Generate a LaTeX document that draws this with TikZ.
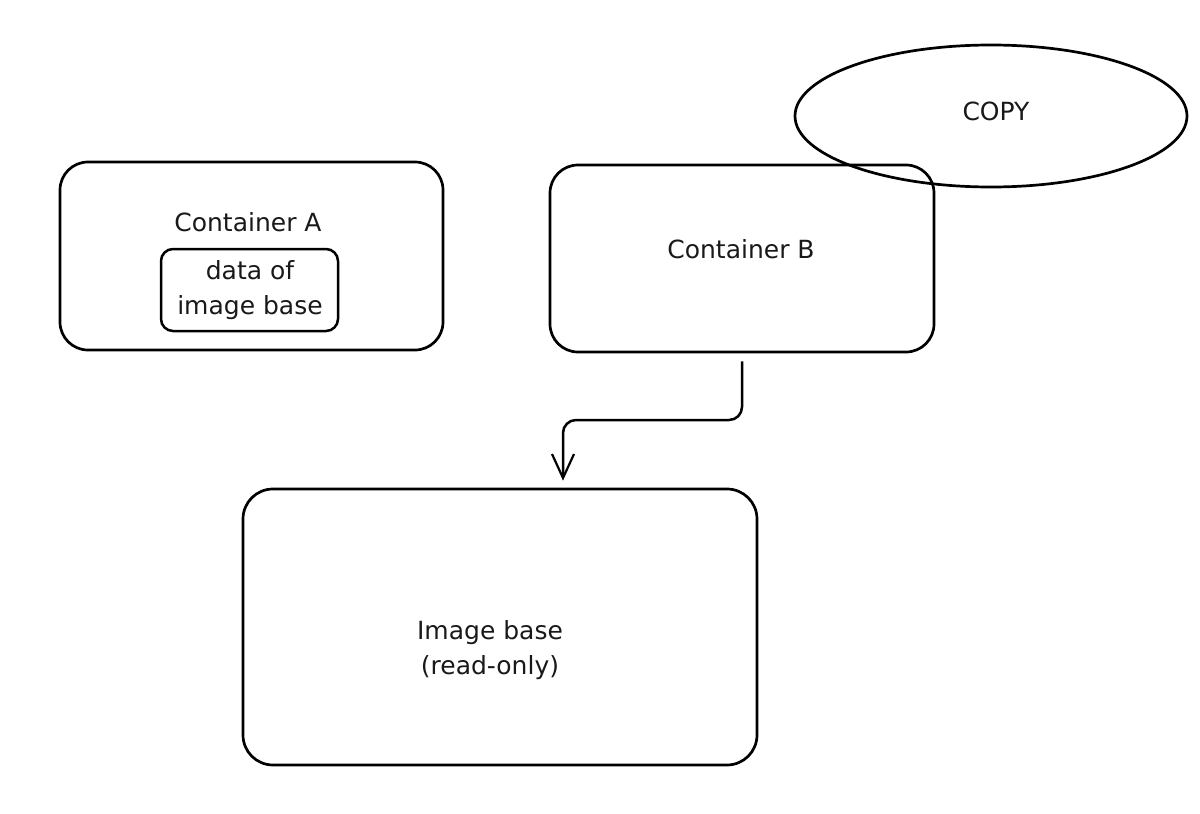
\documentclass[tikz,border=0pt]{standalone}
\usepackage{fontspec}
\setmainfont{DejaVu Sans}
\usetikzlibrary{arrows.meta,shapes.geometric,calc}
\begin{document}
\begin{tikzpicture}[x=1pt,y=-1pt,
  box/.style={draw=black,line width=2.7pt,rounded corners=28pt,inner sep=0pt},
  inner/.style={draw=black,line width=2.5pt,rounded corners=12pt,inner sep=0pt},
  lbl/.style={font=\fontsize{25}{35}\selectfont,text=black!90,align=center,inner sep=0pt},
  conn/.style={draw=black,line width=2.5pt,rounded corners=13pt,-{Straight Barb[length=24pt,width=22pt,line width=2.2pt]}}]
\useasboundingbox (0,0) rectangle (1200,814);
% Container A
\node[box,minimum width=383pt,minimum height=188pt] (A) at (251.5,256) {};
\node[lbl] (Alabel) at (248,222) {Container A};
\node[inner,minimum width=177pt,minimum height=82pt] (D) at (249.5,290) {};
\node[lbl] (Dtext) at (250,290) {data of\\image base};
% Container B
\node[box,minimum width=384pt,minimum height=187pt] (B) at (742,258.5) {};
\node[lbl] (Blabel) at (741,249) {Container B};
% COPY ellipse
\node[ellipse,draw=black,line width=2.7pt,minimum width=392pt,minimum height=142pt,inner sep=0pt] (C) at (991,116) {};
\node[lbl] (Clabel) at (996,111) {COPY};
% Image base
\node[box,rounded corners=30pt,minimum width=514pt,minimum height=276pt] (I) at (500,627) {};
\node[lbl] (Ilabel) at (490,650) {Image base\\(read-only)};
% Arrow
\coordinate (s) at ($(B.south)+(0,8)$);
\coordinate (e) at ($(I.north)+(63,-7)$);
\draw[conn] (s) -- (s |- 0,420) -- (e |- 0,420) -- (e);
\end{tikzpicture}
\end{document}
